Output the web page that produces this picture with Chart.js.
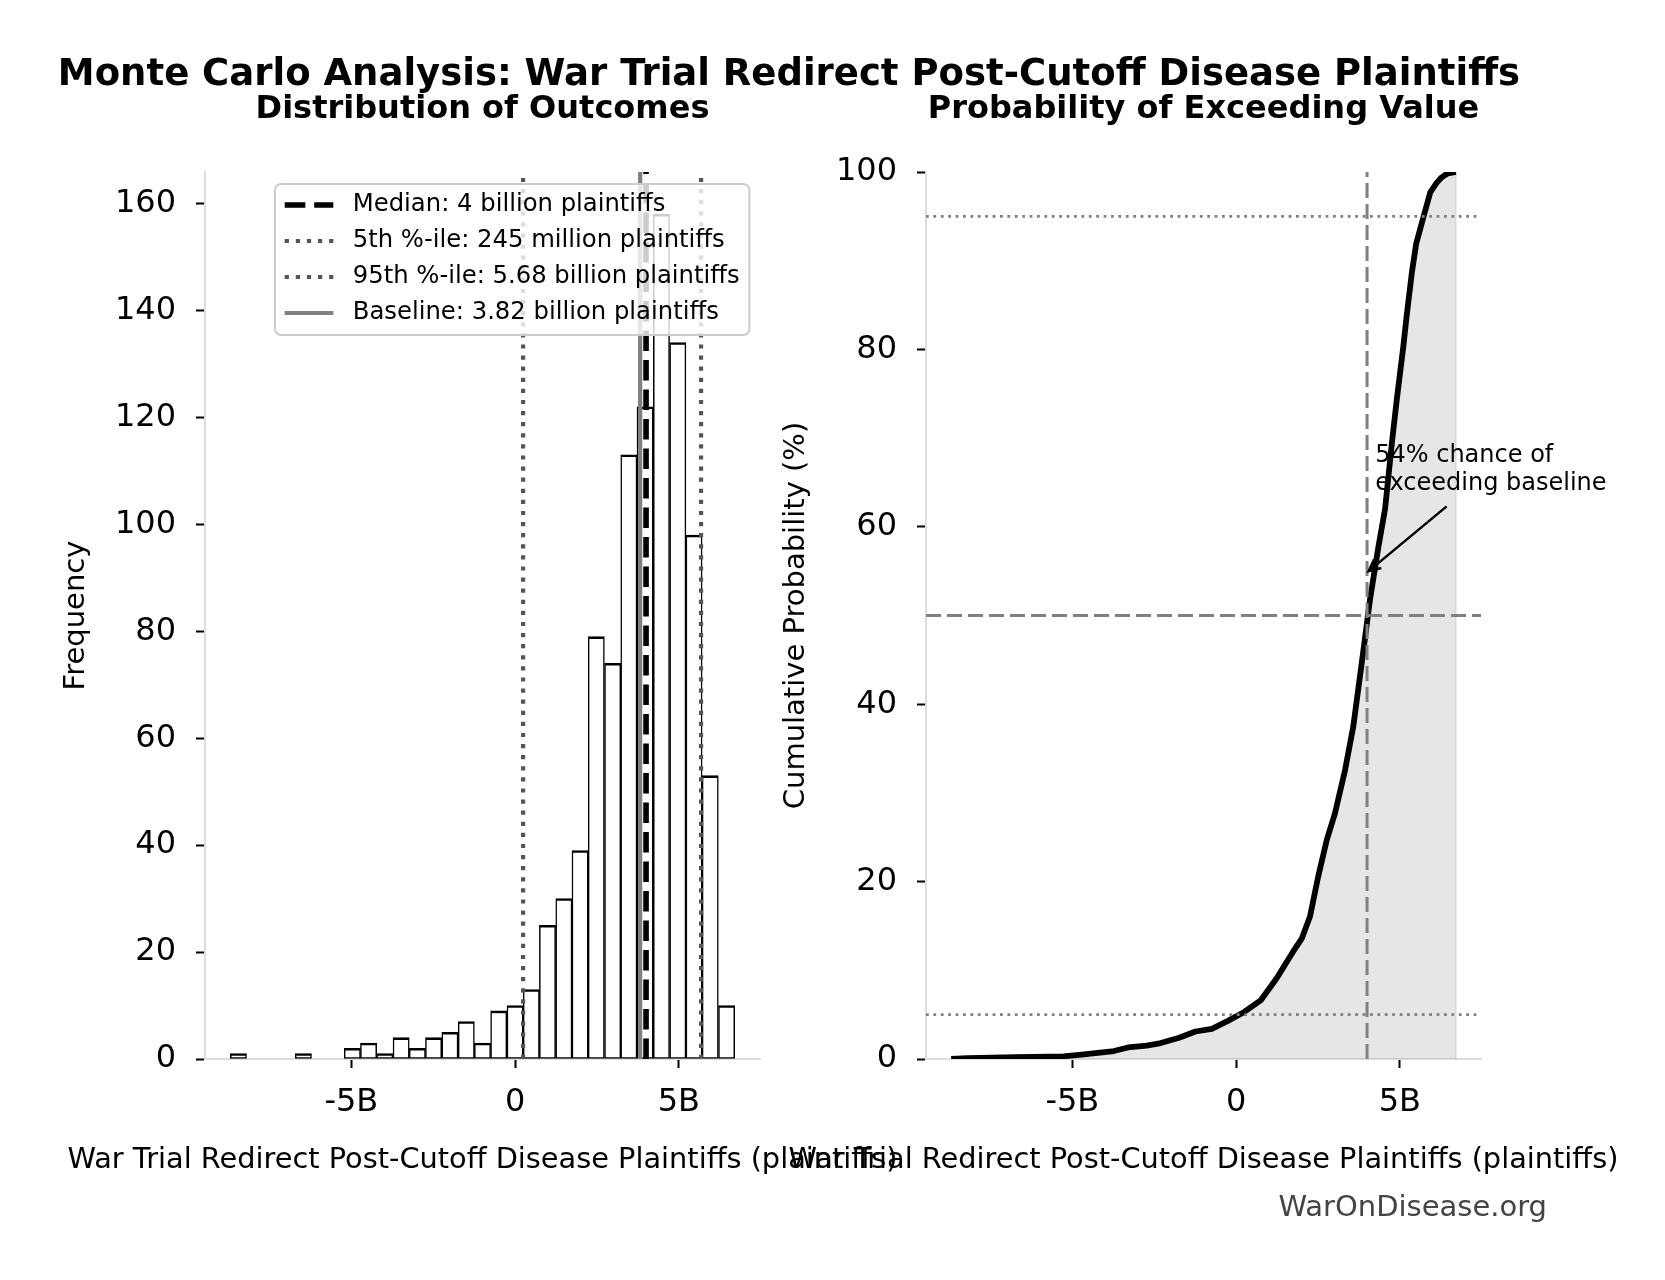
<!DOCTYPE html>
<html>
<head>
<meta charset="utf-8">
<script src="https://cdn.jsdelivr.net/npm/chart.js@4.4.0/dist/chart.umd.min.js"></script>
<style>
  html, body { margin: 0; padding: 0; background: #fff; }
  #wrap { position: relative; width: 1665px; height: 1280px; }
  #wrap canvas { position: absolute; left: 0; top: 0; }
</style>
</head>
<body>
<div id="wrap">
  <canvas id="histChart" width="1665" height="1280"></canvas>
  <canvas id="cdfChart" width="1665" height="1280"></canvas>
</div>
<script>
// values in billions of plaintiffs
const binEdges = [-8.70, -8.20, -7.71, -7.21, -6.71, -6.22, -5.72, -5.22, -4.72, -4.23, -3.73,
  -3.23, -2.74, -2.24, -1.74, -1.24, -0.75, -0.25, 0.25, 0.74, 1.24, 1.74, 2.23, 2.73, 3.23,
  3.72, 4.22, 4.72, 5.22, 5.71, 6.21, 6.71];
const binCounts = [1, 0, 0, 0, 1, 0, 0, 2, 3, 1, 4, 2, 4, 5, 7, 3, 9, 10, 13, 25, 30, 39,
  79, 74, 113, 122, 158, 134, 98, 53, 10];

const refValues = [4.0, 0.245, 5.68, 3.82];
const refLabels = ['Median: 4 billion plaintiffs', '5th %-ile: 245 million plaintiffs',
  '95th %-ile: 5.68 billion plaintiffs', 'Baseline: 3.82 billion plaintiffs'];

// cumulative curve (sorted outcome, percent)
const cdfX = [-8.70, -8.20, -6.71, -5.27, -4.72, -4.22, -3.73, -3.30, -2.73, -2.30, -1.74,
  -1.24, -0.74, -0.25, 0.25, 0.75, 1.24, 1.74, 2.01, 2.26, 2.51, 2.77, 3.02, 3.33, 3.58,
  3.89, 4.09, 4.35, 4.55, 4.76, 4.91, 5.11, 5.21, 5.37, 5.50, 5.72, 5.93, 6.13, 6.28, 6.44, 6.71];
const cdfY = [0.0, 0.1, 0.2, 0.3, 0.5, 0.7, 0.9, 1.3, 1.5, 1.8, 2.4, 3.1, 3.4, 4.3, 5.3, 6.6,
  9.1, 12.1, 13.6, 16.1, 20.6, 24.7, 27.7, 32.6, 37.5, 46.1, 51.8, 57.8, 62.0, 69.5, 74.4,
  80.4, 83.8, 88.7, 91.9, 94.9, 97.7, 98.8, 99.4, 99.8, 100];

const xMin = -9.47, xMax = 7.48;
const xTicks = [-5, 0, 5];
const xTickText = ['-5B', '0', '5B'];
const histTicks = [0, 20, 40, 60, 80, 100, 120, 140, 160];
const histMax = 165.9;
const cdfTicks = [0, 20, 40, 60, 80, 100];
const hLevels = [50, 5, 95];
const medianLine = 4.0;

const xTitle = 'War Trial Redirect Post-Cutoff Disease Plaintiffs (plaintiffs)';
const note = { lines: ['54% chance of', 'exceeding baseline'], x: 4.25, y: [68.0, 64.8],
  tipX: 4.05, tipY: 55.0, tailX: 6.43, tailY: 62.3 };

Chart.defaults.font.family = "'DejaVu Sans'";
Chart.defaults.color = '#000';

const FIG_H = 1280, PLOT_TOP = 172, PLOT_BOTTOM = 1059;

function xScale() {
  return {
    type: 'linear', min: xMin, max: xMax, offset: false,
    afterBuildTicks: s => { s.ticks = xTicks.map(v => ({ value: v })); },
    afterFit: s => { s.height = FIG_H - PLOT_BOTTOM; },
    ticks: { callback: v => xTickText[xTicks.indexOf(v)], font: { size: 32 }, color: '#000',
      padding: 15, autoSkip: false, maxRotation: 0 },
    grid: { offset: false, drawOnChartArea: false, drawTicks: true, tickLength: 9,
      tickColor: '#000', tickWidth: 2 },
    border: { color: '#dddddd', width: 2 }
  };
}

function yScale(max, ticks, title, titlePad, width) {
  return {
    type: 'linear', min: 0, max: max,
    afterBuildTicks: s => { s.ticks = ticks.map(v => ({ value: v })); },
    afterFit: s => { s.width = width; },
    ticks: { font: { size: 32 }, color: '#000', padding: 20, autoSkip: false },
    grid: { drawOnChartArea: false, drawTicks: true, tickLength: 9, tickColor: '#000', tickWidth: 2 },
    border: { color: '#dddddd', width: 2 },
    title: { display: true, text: title, font: { size: 29 }, color: '#000',
      padding: { top: titlePad, bottom: 0 } }
  };
}

// plain canvas text: titles, x labels, watermark
const figText = {
  id: 'figText',
  afterDraw(chart, args, opts) {
    const ctx = chart.ctx;
    const area = chart.chartArea;
    ctx.save();
    ctx.textBaseline = 'middle';
    (opts.items || []).forEach(t => {
      ctx.font = t.font;
      ctx.fillStyle = t.color || '#000';
      ctx.textAlign = t.align || 'center';
      const x = t.x === 'center' ? (area.left + area.right) / 2 : t.x;
      ctx.fillText(t.text, x, t.y);
    });
    ctx.restore();
  }
};

// framed legend inside the axes, like matplotlib
const boxLegend = {
  id: 'boxLegend',
  afterDatasetsDraw(chart, args, o) {
    if (!o.show) return;
    const ctx = chart.ctx;
    const items = chart.data.datasets.filter(d => d.inLegend);
    const fs = o.size;
    ctx.save();
    ctx.font = fs + "px 'DejaVu Sans'";
    const textW = Math.max(...items.map(d => ctx.measureText(d.label).width));
    const w = fs * 3.6 + textW;
    ctx.beginPath();
    ctx.roundRect(o.left, o.top, w, o.height, 6);
    ctx.fillStyle = 'rgba(255,255,255,0.8)';
    ctx.fill();
    ctx.lineWidth = 2;
    ctx.strokeStyle = '#cccccc';
    ctx.stroke();
    items.forEach((d, i) => {
      const y = o.top + o.firstRow + i * o.rowGap;
      ctx.beginPath();
      ctx.setLineDash(d.borderDash || []);
      ctx.lineWidth = d.borderWidth;
      ctx.strokeStyle = d.borderColor;
      ctx.moveTo(o.left + 0.4 * fs, y);
      ctx.lineTo(o.left + 2.4 * fs, y);
      ctx.stroke();
      ctx.setLineDash([]);
      ctx.fillStyle = '#000';
      ctx.textAlign = 'left';
      ctx.textBaseline = 'middle';
      ctx.fillText(d.label, o.left + 3.2 * fs, y);
    });
    ctx.restore();
  }
};

// arrow + text annotation in data coordinates
const arrowNote = {
  id: 'arrowNote',
  afterDraw(chart, args, o) {
    if (!o.note) return;
    const n = o.note, sx = chart.scales.x, sy = chart.scales.y, ctx = chart.ctx;
    ctx.save();
    ctx.font = "24px 'DejaVu Sans'";
    ctx.fillStyle = '#000';
    ctx.textAlign = 'left';
    ctx.textBaseline = 'middle';
    n.lines.forEach((s, i) => ctx.fillText(s, sx.getPixelForValue(n.x), sy.getPixelForValue(n.y[i])));
    const x1 = sx.getPixelForValue(n.tailX), y1 = sy.getPixelForValue(n.tailY);
    const x2 = sx.getPixelForValue(n.tipX), y2 = sy.getPixelForValue(n.tipY);
    const a = Math.atan2(y2 - y1, x2 - x1), hl = 13;
    ctx.strokeStyle = '#000';
    ctx.lineWidth = 2.5;
    ctx.beginPath();
    ctx.moveTo(x1, y1); ctx.lineTo(x2, y2);
    ctx.moveTo(x2 - hl * Math.cos(a - 0.45), y2 - hl * Math.sin(a - 0.45));
    ctx.lineTo(x2, y2);
    ctx.lineTo(x2 - hl * Math.cos(a + 0.45), y2 - hl * Math.sin(a + 0.45));
    ctx.stroke();
    ctx.restore();
  }
};

function vline(x, top, style) {
  return Object.assign({ type: 'line', data: [{ x: x, y: 0 }, { x: x, y: top }],
    pointRadius: 0, fill: false, tension: 0 }, style);
}

// ---- left: histogram ----
const refStyles = [
  { borderColor: '#000000', borderWidth: 5.6, borderDash: [20.6, 8.9] },
  { borderColor: '#555555', borderWidth: 4.2, borderDash: [4.2, 6.9] },
  { borderColor: '#555555', borderWidth: 4.2, borderDash: [4.2, 6.9] },
  { borderColor: '#808080', borderWidth: 4.2, borderDash: [] }
];

const histDatasets = [{
  type: 'bar',
  label: 'Frequency',
  data: binCounts.map((c, i) => ({ x: (binEdges[i] + binEdges[i + 1]) / 2, y: c || null })),
  backgroundColor: '#ffffff',
  borderColor: '#000000',
  borderWidth: { top: 2.6, left: 1.5, right: 1.5, bottom: 1.5 },
  borderSkipped: false,
  barPercentage: 1,
  categoryPercentage: 1,
  order: 10
}];
refValues.forEach((v, i) => {
  histDatasets.push(vline(v, histMax, Object.assign({ label: refLabels[i], inLegend: true, order: 4 - i }, refStyles[i])));
});

new Chart(document.getElementById('histChart'), {
  type: 'bar',
  data: { datasets: histDatasets },
  options: {
    responsive: false, animation: false, devicePixelRatio: 1, events: [],
    layout: { padding: { left: 0, top: PLOT_TOP, right: 1665 - 760, bottom: 0 } },
    scales: { x: xScale(), y: yScale(histMax, histTicks, 'Frequency', 58.6, 205) },
    plugins: {
      legend: { display: false }, tooltip: { enabled: false },
      boxLegend: { show: true, size: 24.3, left: 275, top: 184, height: 151, firstRow: 21, rowGap: 36 },
      figText: { items: [
        { text: 'Monte Carlo Analysis: War Trial Redirect Post-Cutoff Disease Plaintiffs',
          font: "bold 37px 'DejaVu Sans'", x: 789, y: 75 },
        { text: 'Distribution of Outcomes', font: "bold 32px 'DejaVu Sans'", x: 'center', y: 110 },
        { text: xTitle, font: "28.8px 'DejaVu Sans'", x: 'center', y: 1161 }
      ] }
    }
  },
  plugins: [figText, boxLegend]
});

// ---- right: cumulative curve ----
const cdfPoints = cdfX.map((x, i) => ({ x: x, y: cdfY[i] }));
const gray = 'rgba(128,128,128,0.2)';
const cdfDatasets = [
  { type: 'line', label: 'area', data: cdfPoints.concat([{ x: cdfX[cdfX.length - 1], y: 0 }]),
    fill: 'origin', backgroundColor: gray, borderColor: gray, borderWidth: 2,
    pointRadius: 0, tension: 0, order: 10 },
  { type: 'line', label: 'curve', data: cdfPoints, borderColor: '#000000', borderWidth: 5.8,
    borderJoinStyle: 'round', pointRadius: 0, fill: false, tension: 0, order: 5 },
  vline(medianLine, 100, { borderColor: '#808080', borderWidth: 3, borderDash: [15, 6], order: 1 })
];
hLevels.forEach((h, i) => {
  cdfDatasets.push({ type: 'line', data: [{ x: xMin, y: h }, { x: xMax, y: h }],
    borderColor: '#808080', borderWidth: i === 0 ? 3 : 2.8,
    borderDash: i === 0 ? [15, 6] : [2.8, 4.6], pointRadius: 0, fill: false, order: 1 });
});

new Chart(document.getElementById('cdfChart'), {
  type: 'line',
  data: { datasets: cdfDatasets },
  options: {
    responsive: false, animation: false, devicePixelRatio: 1, events: [],
    layout: { padding: { left: 700, top: PLOT_TOP, right: 1665 - 1481, bottom: 0 } },
    scales: { x: xScale(), y: yScale(100, cdfTicks, 'Cumulative Probability (%)', 78.6, 226) },
    plugins: {
      legend: { display: false }, tooltip: { enabled: false },
      arrowNote: { note: note },
      figText: { items: [
        { text: 'Probability of Exceeding Value', font: "bold 32px 'DejaVu Sans'", x: 'center', y: 110 },
        { text: xTitle, font: "28.8px 'DejaVu Sans'", x: 'center', y: 1161 },
        { text: 'WarOnDisease.org', font: "29px 'DejaVu Sans'", color: '#444444', align: 'right', x: 1547, y: 1208 }
      ] }
    }
  },
  plugins: [figText, arrowNote]
});
</script>
</body>
</html>
